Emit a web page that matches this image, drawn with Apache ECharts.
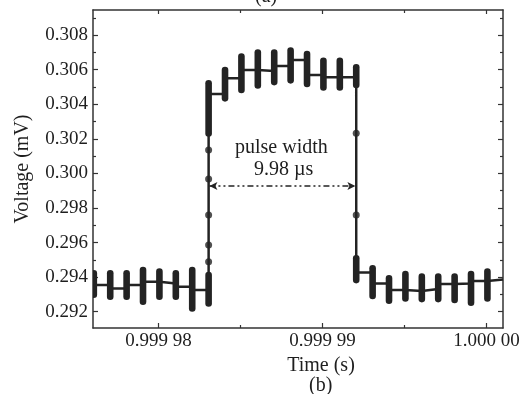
<!DOCTYPE html>
<html>
<head>
<meta charset="utf-8">
<script src="https://cdn.jsdelivr.net/npm/echarts@6.0.0/dist/echarts.min.js"></script>
<style>
  html, body { margin: 0; padding: 0; background: #fff; }
  #chart { width: 524px; height: 394px; }
</style>
</head>
<body>
<div id="chart"></div>
<script>
// time is in µs counted from 0.99997 s
const T0_US = 999970;

// mean trace (step line), value of each segment starting at that time
const traceT = [6.05, 7.05, 8.05, 9.05, 10.05, 11.05, 12.05, 13.05, 14.05, 15.05, 16.05, 17.05, 18.05,
  19.05, 20.05, 21.05, 22.05, 23.05, 24.05, 25.05, 26.05, 27.05, 28.05, 29.05, 30.05, 31.0];
const traceV = [0.29354, 0.29335, 0.29354, 0.29374, 0.29364, 0.29345, 0.29326, 0.30459, 0.30550, 0.30598,
  0.30592, 0.30621, 0.30656, 0.30569, 0.30556, 0.30556, 0.29427, 0.29364, 0.29326, 0.29320, 0.29331,
  0.29360, 0.29364, 0.29378, 0.29386, 0.29386];

// spread of the samples at each time (thick vertical blobs)
const clusterT = [6.05, 7.05, 8.05, 9.05, 10.05, 11.05, 12.05, 13.05, 13.05, 14.05, 15.05, 16.05, 17.05,
  18.05, 19.05, 20.05, 21.05, 22.05, 22.05, 23.05, 24.05, 25.05, 26.05, 27.05, 28.05, 29.05, 30.05];
const clusterHi = [0.29441, 0.29441, 0.29441, 0.29460, 0.29451, 0.29441, 0.29460, 0.29431, 0.30540, 0.30617,
  0.30695, 0.30718, 0.30718, 0.30729, 0.30710, 0.30671, 0.30671, 0.30633, 0.29528, 0.29470, 0.29412,
  0.29437, 0.29422, 0.29422, 0.29422, 0.29437, 0.29451];
const clusterLo = [0.29279, 0.29268, 0.29268, 0.29239, 0.29268, 0.29268, 0.29200, 0.29229, 0.30212, 0.30415,
  0.30463, 0.30490, 0.30509, 0.30519, 0.30498, 0.30478, 0.30478, 0.30492, 0.29364, 0.29272, 0.29245,
  0.29258, 0.29254, 0.29254, 0.29249, 0.29233, 0.29258];

// single samples on the rising / falling edges
const dotT = [13.05, 13.05, 13.05, 13.05, 13.05, 22.05, 22.05];
const dotV = [0.30135, 0.29968, 0.29759, 0.29586, 0.29489, 0.30232, 0.29759];

// pulse width marker
const pulseLevel = 0.29927;
const pulseStart = 13.1;
const pulseEnd = 22.0;

const xMin = 6.0, xMax = 31.0;
const yMin = 0.29106, yMax = 0.30945;
const xTicks = [10, 20, 30];
const xMinorTicks = [15, 25];
const yTicks = [0.292, 0.294, 0.296, 0.298, 0.300, 0.302, 0.304, 0.306, 0.308];
const yMinorTicks = [0.293, 0.295, 0.297, 0.299, 0.301, 0.303, 0.305, 0.307, 0.309];

const INK = "#232323";
const AXIS = "#333";
const FONT = "Liberation Serif";

const fmtTime = (v) => {
  const s = ((T0_US + v) / 1e6).toFixed(5);
  return s.slice(0, 5) + " " + s.slice(5);
};

const xAx = (pos, ticks, len, labels, line) => ({
  type: "value", position: pos, min: xMin, max: xMax,
  axisLine: { show: line, onZero: false, lineStyle: { color: AXIS, width: 1.5 } },
  axisTick: { show: true, inside: true, length: len, customValues: ticks, lineStyle: { color: AXIS, width: 1.2 } },
  axisLabel: labels
    ? { show: true, customValues: ticks, formatter: fmtTime, margin: 4, color: "#1e1e1e", fontFamily: FONT, fontSize: 19 }
    : { show: false },
  splitLine: { show: false }
});

const yAx = (pos, ticks, len, labels, line) => ({
  type: "value", position: pos, min: yMin, max: yMax,
  axisLine: { show: line, onZero: false, lineStyle: { color: AXIS, width: 1.5 } },
  axisTick: { show: true, inside: true, length: len, customValues: ticks, lineStyle: { color: AXIS, width: 1.2 } },
  axisLabel: labels
    ? { show: true, customValues: ticks, formatter: (v) => v.toFixed(3), margin: 5, color: "#1e1e1e", fontFamily: FONT, fontSize: 19 }
    : { show: false },
  splitLine: { show: false }
});

const xAxis = [
  Object.assign(xAx("bottom", xTicks, 5, true, true), {
    name: "Time (s)", nameLocation: "middle", nameGap: 22,
    nameTextStyle: { color: "#1e1e1e", fontFamily: FONT, fontSize: 20, padding: [0, 0, 0, 46] }
  }),
  xAx("bottom", xMinorTicks, 3, false, false),
  xAx("top", xTicks, 4, false, true),
  xAx("top", xMinorTicks, 3, false, false)
];

const yAxis = [
  Object.assign(yAx("left", yTicks, 5, true, true), {
    name: "Voltage (mV)", nameLocation: "middle", nameGap: 60,
    nameTextStyle: { color: "#1e1e1e", fontFamily: FONT, fontSize: 20 }
  }),
  yAx("left", yMinorTicks, 3, false, false),
  yAx("right", yTicks, 5, false, true),
  yAx("right", yMinorTicks, 3, false, false)
];

const chart = echarts.init(document.getElementById("chart"));

chart.setOption({
  animation: false,
  backgroundColor: "#fff",
  grid: { left: 93, right: 21, top: 10, bottom: 66 },
  xAxis,
  yAxis,
  graphic: [
    { type: "text", left: 255, top: -13, style: { text: "(a)", font: `20px "${FONT}"`, fill: "#1e1e1e" } },
    { type: "text", left: 309, top: 376, style: { text: "(b)", font: `20px "${FONT}"`, fill: "#1e1e1e" } },
    { type: "text", left: 235, top: 138, style: { text: "pulse width", font: `20px "${FONT}"`, fill: "#1e1e1e" } },
    { type: "text", left: 254, top: 160, style: { text: "9.98 µs", font: `20px "${FONT}"`, fill: "#1e1e1e" } }
  ],
  series: [
    {
      type: "line",
      step: "end",
      data: traceT.map((t, i) => [t, traceV[i]]),
      showSymbol: false,
      lineStyle: { color: INK, width: 2.5 },
      clip: true,
      z: 2,
      markLine: {
        silent: true,
        symbol: ["arrow", "arrow"],
        symbolSize: [6, 8],
        label: { show: false },
        lineStyle: { color: INK, width: 1.6, type: [6, 3, 2, 3, 2, 3] },
        data: [[{ coord: [pulseStart, pulseLevel] }, { coord: [pulseEnd, pulseLevel] }]]
      }
    },
    {
      type: "custom",
      clip: true,
      z: 3,
      data: clusterT.map((t, i) => [t, clusterHi[i], clusterLo[i]]),
      encode: { x: 0, y: [1, 2] },
      renderItem: (params, api) => {
        const p1 = api.coord([api.value(0), api.value(1)]);
        const p2 = api.coord([api.value(0), api.value(2)]);
        return {
          type: "line",
          shape: { x1: p1[0], y1: p1[1] + 3.3, x2: p2[0], y2: p2[1] - 3.3 },
          style: { stroke: INK, lineWidth: 6.6, lineCap: "round" }
        };
      }
    },
    {
      type: "scatter",
      data: dotT.map((t, i) => [t, dotV[i]]),
      symbolSize: 7,
      itemStyle: { color: INK },
      z: 4
    }
  ]
});
</script>
</body>
</html>
